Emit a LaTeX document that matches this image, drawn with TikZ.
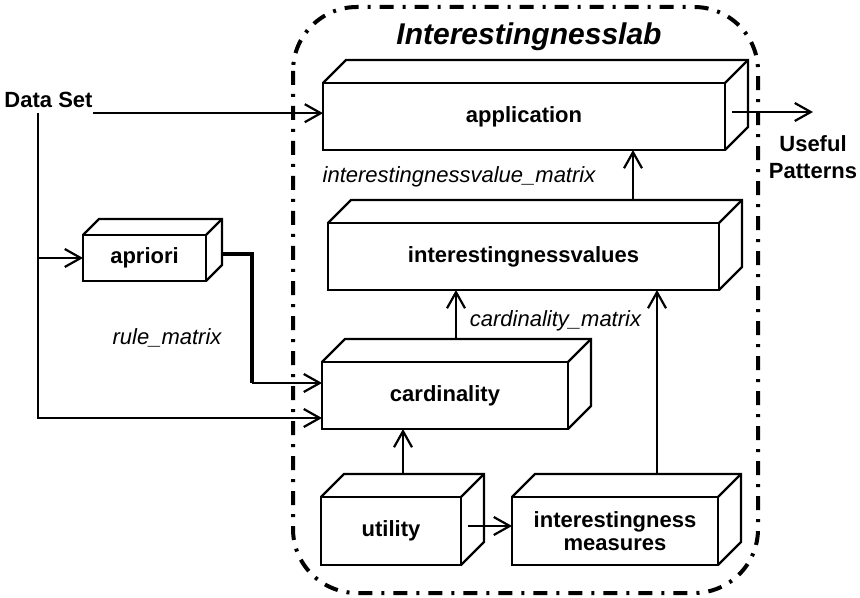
\documentclass[tikz,border=0pt]{standalone}
\usepackage{fontspec}
\setmainfont{Liberation Sans}
\usetikzlibrary{arrows.meta,calc,positioning}

\begin{document}
\begin{tikzpicture}[x=0.5pt,y=-0.5pt]
\tikzset{boxnode/.style={draw,line width=1.1pt,fill=white,inner sep=0,outer sep=0,align=center,font=\fontsize{11}{11.5}\selectfont\bfseries},
txtnode/.style={inner xsep=0,inner ysep=2.5pt,align=center,font=\fontsize{11}{13.5}\selectfont\bfseries},
matlabel/.style={inner sep=0,font=\fontsize{11}{13}\selectfont\itshape},
arr/.style={line width=1.1pt,-{Straight Barb[length=8pt,width=9pt]}},
labframe/.style={line width=2pt,rounded corners=32pt,dash pattern=on 7pt off 4.5pt on 1.5pt off 4.5pt}}

\useasboundingbox (0,0) rectangle (860,598);

%% Frame
\draw[labframe] (293,7) rectangle (758,593);
\node (title) [inner sep=0,font=\fontsize{15}{18}\selectfont\bfseries\itshape] at (529,37) {Interestingnesslab};

%% Boxes
\node (app) [boxnode,minimum width=201pt,minimum height=33.5pt] at (524,116.5) {application};
\node (ivals) [boxnode,minimum width=195.5pt,minimum height=33.5pt] at (523.5,256.5) {interestingnessvalues};
\node (card) [boxnode,minimum width=123pt,minimum height=33.5pt] at (445,395.5) {cardinality};
\node (util) [boxnode,minimum width=70pt,minimum height=34pt] at (391,531) {utility};
\node (meas) [boxnode,minimum width=103pt,minimum height=34pt] at (615,531) {interestingness\\measures};
\node (apri) [boxnode,minimum width=61.5pt,minimum height=23pt] at (144.5,258) {apriori};

\foreach \n/\d in {app/11.5,ivals/11.5,card/11.5,util/11.5,meas/11.5,apri/8} {
\draw[line width=1.1pt] (\n.north west) -- ++(\d pt,\d pt) -| ($(\n.south east)+(\d pt,\d pt)$) -- (\n.south east);
\draw[line width=1.1pt] (\n.north east) -- ++(\d pt,\d pt);
}

%% Texts
\node (dset) [txtnode] at (48.5,100) {Data Set};
\node (useful) [txtnode] at (813,157) {Useful\\Patterns};
\node (ivmat) [matlabel] at (459,177) {interestingnessvalue\_matrix};
\node (cdmat) [matlabel] at (555.5,321) {cardinality\_matrix};
\node (rlmat) [matlabel] at (167,338) {rule\_matrix};

%% Edges
\coordinate (dsdown) at ([xshift=-5.25pt]dset.south);
\draw[arr] (dset.south east) -- (dset.south east -| app.west);
\draw[arr] (dsdown) |- ([yshift=-11.25pt]card.west);
\draw[arr] (dsdown |- apri.west) -- (apri.west);
\draw[line width=2pt] ([xshift=8pt,yshift=2pt]apri.east) -| ++(15pt,-64.5pt) coordinate (bend);
\draw[arr] (bend) -- (bend -| card.west);
\draw[arr] ([xshift=5.5pt,yshift=11.5pt]card.north) coordinate (cup) -- (cup |- ivals.south);
\draw[arr] ([xshift=6pt,yshift=11.5pt]util.north) coordinate (uup) -- (uup |- card.south);
\draw[arr] ([xshift=3.5pt,yshift=2.5pt]util.east) coordinate (uout) -- (uout -| meas.west);
\draw[arr] ([xshift=21pt,yshift=11.5pt]meas.north) coordinate (mup) -- (mup |- ivals.south);
\draw[arr] ([xshift=54.75pt,yshift=11.5pt]ivals.north) coordinate (vup) -- (vup |- app.south);
\draw[arr] ([xshift=3.5pt,yshift=2.25pt]app.east) coordinate (aout) -- (aout -| useful.north);

\end{tikzpicture}
\end{document}
